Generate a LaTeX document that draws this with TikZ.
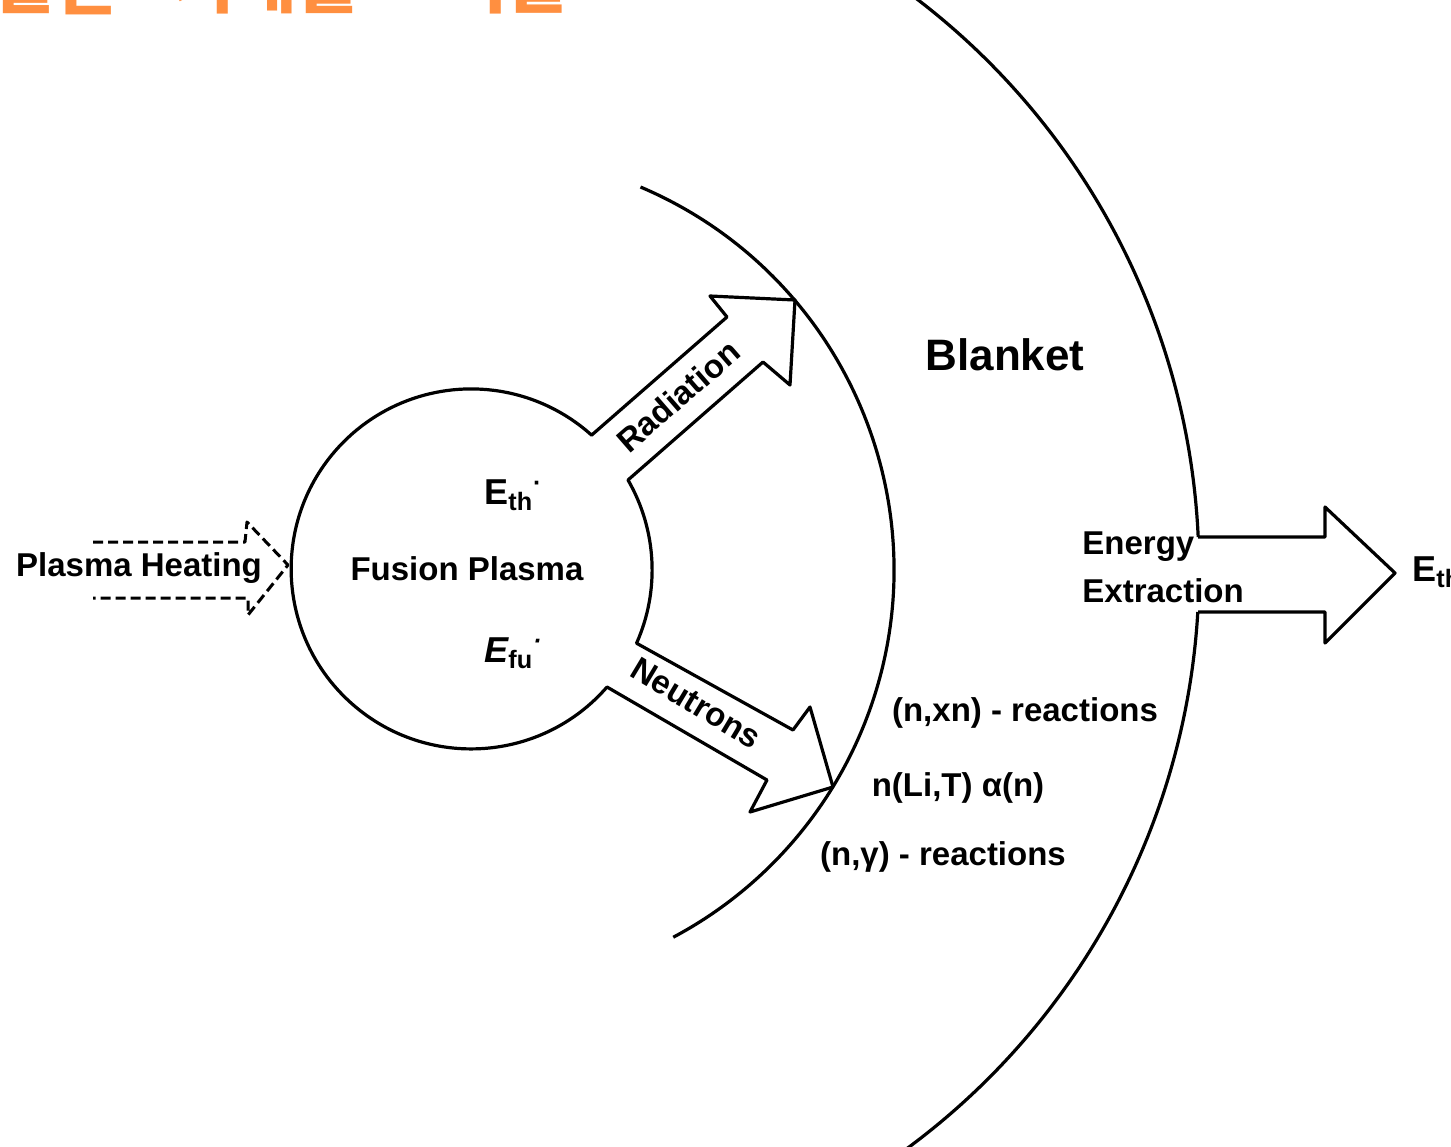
\documentclass[tikz,border=0pt]{standalone}
\usepackage{fontspec}
\setmainfont{Liberation Sans}
\newfontfamily\kr{Noto Sans CJK KR}
\begin{document}
\begin{tikzpicture}[x=0.5pt,y=-0.5pt,line join=round,
  ln/.style={line width=1.6pt},
  lab/.style={font=\fontsize{16.5}{19}\selectfont\bfseries,inner sep=0pt},
  big/.style={font=\fontsize{22}{26}\selectfont\bfseries,inner sep=0pt},
  en/.style={font=\fontsize{18}{20}\selectfont\bfseries,inner sep=0pt},
  title/.style={font=\kr\fontsize{34}{36}\selectfont\bfseries,text=orangeT,inner sep=0pt,anchor=base west}]
\definecolor{orangeT}{RGB}{255,143,64}
\useasboundingbox (0,0) rectangle (1451,1146);
\clip (0,0) rectangle (1451,1146);
\fill[white] (0,0) rectangle (1451,1146);
% cut-off title
\node[title] (t1) at (-6,7) {물론};
\node[title] (t2) at (172,7) {시대를};
\node[title] (t3) at (445,7) {이끌};
% plasma with radiation and neutron arrows
\draw[ln] (628,480) arc[start angle=-30,end angle=24,radius=180]
  -- (793,730) -- (810,707) -- (833,787) -- (750,812) -- (767,780) -- (607,687)
  arc[start angle=41,end angle=312,radius=180]
  -- (727,317) -- (710,296) -- (795,300) -- (790,385) -- (763,362) -- cycle;
% first wall arc
\draw[ln] (640.5,187) arc[start angle=-67,end angle=62,radius=416];
% outer blanket arc
\draw[ln] (912.7,-4.2) arc[start angle=-53,end angle=-2.63,radius=719];
\draw[ln] (1197.8,612) arc[start angle=3.35,end angle=56,radius=719];
% energy extraction arrow
\draw[ln] (1198,537) -- (1325,537) -- (1325,507) -- (1395,573) -- (1325,643) -- (1325,612) -- (1198,612);
% plasma heating dashed arrow
\draw[line width=1.5pt,dash pattern=on 5pt off 2.5pt] (93,542) -- (245,542) -- (247,522) -- (288,565) -- (248,615) -- (248,598) -- (93,598);
% labels
\node[lab] (ph) at (139,568) {Plasma Heating};
\node[lab] (fp) at (467,569) {Fusion Plasma};
\node[en,anchor=base west] (eth) at (484,504) {E\textsubscript{th}\textsuperscript{·}};
\node[en,anchor=base west] (efu) at (484,662) {\itshape E\textsubscript{\upshape fu}\textsuperscript{·}};
\node[lab,rotate=41] (rad) at (678,396) {Radiation};
\node[lab,rotate=-31] (neu) at (696,703) {Neutrons};
\node[big] (bl) at (1005,355) {Blanket};
\node[lab,anchor=west] (ee1) at (1082,547) {Energy};
\node[lab,anchor=west] (ee2) at (1082,591) {Extraction};
\node[lab] (r1) at (1025,713) {(n,xn) - reactions};
\node[lab] (r2) at (958,788) {n(Li,T) α(n)};
\node[lab] (r3) at (943,857) {(n,γ) - reactions};
\node[en,anchor=base west] (et) at (1412,581) {E\textsubscript{th}\textsuperscript{·}};
\end{tikzpicture}
\end{document}
